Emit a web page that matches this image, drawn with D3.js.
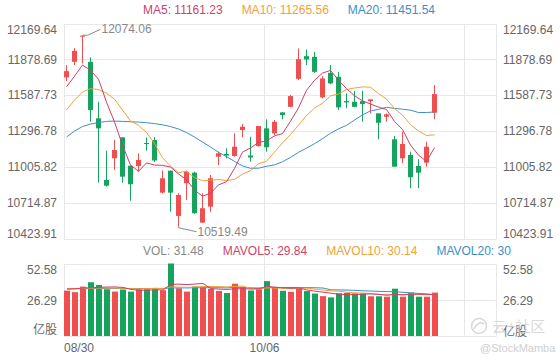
<!DOCTYPE html>
<html>
<head>
<meta charset="utf-8">
<script src="https://cdn.jsdelivr.net/npm/d3@7"></script>
<style>
  body { margin: 0; background: #fff; }
  svg { display: block; font-family: "Liberation Sans", Arial, sans-serif; }
</style>
</head>
<body>
<div id="chart"></div>
<script>
// Chart data
const openP  = [11731.8, 11858.3, 12062.6, 11858.3, 11399.4, 10899.2, 11075.1, 11245.4, 11015.1, 11012.7, 11199.2, 11223.5, 10796.2, 10974.6, 10607.3, 10872.4, 10958.3, 10552.9, 10682.7, 11088.1, 11110.0, 11093.8, 11304.5, 11097.8, 11174.8, 11318.3, 11277.8, 11448.1, 11493.4, 11720.5, 11904.5, 11898.8, 11569.7, 11769.1, 11736.7, 11539.7, 11534.0, 11539.7, 11539.7, 11439.9, 11412.4, 11229.2, 11075.1, 11101.9, 11012.7, 11039.4, 11444.8];
const closeP = [11782.9, 11947.5, 12070.7, 11466.7, 11318.3, 10853.0, 11142.4, 10925.9, 10864.3, 11061.3, 11194.3, 11057.3, 10912.9, 10796.2, 10777.5, 10966.5, 10629.2, 10669.7, 10912.9, 11115.7, 11097.8, 11169.2, 11331.3, 11081.6, 11337.0, 11164.3, 11371.8, 11426.2, 11580.2, 11880.2, 11877.8, 11777.2, 11723.7, 11683.2, 11488.6, 11529.1, 11493.4, 11515.4, 11553.4, 11363.7, 11431.8, 11007.0, 11191.0, 10921.1, 10958.3, 11169.2, 11596.4];
const highP  = [11831.5, 11969.4, 12074.06, 11894.0, 11534.0, 11136.7, 11223.5, 11245.4, 11015.1, 11115.7, 11245.4, 11247.8, 10976.2, 10974.6, 10791.3, 10974.6, 10966.5, 10791.3, 10939.7, 11128.6, 11156.2, 11277.8, 11353.2, 11250.2, 11337.0, 11391.3, 11385.6, 11448.1, 11588.3, 11967.0, 11958.9, 11939.4, 11742.4, 11831.5, 11777.2, 11602.1, 11623.2, 11623.2, 11553.4, 11439.9, 11439.9, 11255.9, 11290.8, 11128.6, 11067.0, 11209.7, 11669.4];
const lowP   = [11701.8, 11831.5, 11845.3, 11371.8, 10877.3, 10844.8, 10980.2, 10877.3, 10731.3, 10966.5, 11136.7, 11045.1, 10789.7, 10642.1, 10519.49, 10737.0, 10623.5, 10550.5, 10642.1, 11020.8, 11075.1, 11088.1, 11245.4, 11047.5, 11169.2, 11128.6, 11264.0, 11391.3, 11488.6, 11710.0, 11831.5, 11769.1, 11561.6, 11677.5, 11466.7, 11480.5, 11488.6, 11371.8, 11439.9, 11229.2, 11371.8, 11007.0, 11034.6, 10831.9, 10831.9, 11007.0, 11391.3];

const ma5  = [11655, 11742, 11832, 11790, 11717.2, 11531.2, 11370.2, 11180, 11020.8, 10969.4, 11037.6, 11020.6, 11018.0, 11004.4, 10947.6, 10902.1, 10816.5, 10767.8, 10791.2, 10858.8, 10885.1, 10993.1, 11125.4, 11159.1, 11203.4, 11216.7, 11257.2, 11276.2, 11375.9, 11484.5, 11627.2, 11708.3, 11767.8, 11788.4, 11710.1, 11640.4, 11583.6, 11541.9, 11516.0, 11491.0, 11471.5, 11374.3, 11309.4, 11182.9, 11101.8, 11049.3, 11161.23];
const ma10 = [11467, 11548, 11613, 11641, 11633, 11604, 11556, 11467, 11378, 11343.3, 11284.4, 11195.4, 11079.6, 11012.6, 10958.5, 10969.9, 10918.5, 10892.9, 10897.8, 10903.2, 10893.6, 10904.8, 10946.6, 10975.1, 11031.1, 11050.9, 11125.1, 11200.8, 11267.5, 11344.0, 11422.0, 11482.8, 11522.0, 11582.2, 11597.3, 11633.8, 11646.0, 11654.9, 11652.2, 11600.6, 11556.0, 11478.9, 11425.7, 11349.5, 11296.4, 11260.4, 11265.56];
const ma20 = [11248, 11296, 11333, 11353, 11365, 11375, 11377, 11375, 11372, 11369, 11364, 11357, 11347, 11333, 11313, 11284, 11248, 11207, 11167, 11123.3, 11089.0, 11050.1, 11013.1, 10993.9, 10994.8, 11010.4, 11021.8, 11046.9, 11082.6, 11123.6, 11157.8, 11193.8, 11234.3, 11278.7, 11314.2, 11342.3, 11385.5, 11427.8, 11459.9, 11472.3, 11489.0, 11480.8, 11473.8, 11465.8, 11446.9, 11447.1, 11451.54];

const vol = [32.9, 31.8, 35.8, 39.0, 37.0, 33.9, 32.2, 33.7, 32.2, 33.9, 33.9, 33.9, 33.2, 52.58, 34.6, 32.2, 35.8, 35.3, 34.1, 32.7, 31.2, 37.9, 35.5, 33.0, 33.9, 39.8, 35.0, 32.8, 32.0, 34.5, 32.6, 30.8, 28.9, 28.0, 31.0, 31.2, 30.9, 30.8, 28.8, 28.8, 28.5, 34.3, 28.5, 31.5, 28.5, 28.5, 31.48];
const mavol5  = [34.0, 34.2, 34.8, 35.0, 35.3, 35.5, 35.6, 35.2, 33.8, 33.2, 33.2, 33.5, 33.4, 37.5, 37.6, 37.3, 37.7, 38.1, 34.4, 34.0, 33.8, 34.2, 34.3, 34.1, 34.3, 36.0, 35.4, 34.9, 34.7, 34.8, 33.4, 32.5, 31.8, 31.0, 30.3, 30.0, 30.0, 30.4, 30.5, 30.1, 29.6, 30.2, 29.8, 30.3, 30.3, 30.3, 29.84];
const mavol10 = [34.5, 34.5, 34.6, 34.7, 34.8, 34.8, 34.7, 34.6, 34.4, 34.2, 34.3, 34.6, 34.3, 35.6, 35.4, 35.2, 35.6, 35.8, 35.9, 35.8, 35.6, 36.0, 36.2, 34.2, 34.2, 34.9, 34.8, 34.6, 34.4, 34.6, 34.7, 34.0, 33.3, 32.8, 32.5, 31.7, 31.3, 31.1, 30.8, 30.2, 29.8, 30.1, 30.1, 30.4, 30.2, 29.9, 30.14];
const mavol20 = [34.3, 34.3, 34.4, 34.4, 34.5, 34.5, 34.5, 34.5, 34.4, 34.4, 34.4, 34.5, 34.5, 34.8, 34.9, 34.9, 35.0, 35.0, 35.0, 35.0, 34.9, 35.3, 35.2, 34.9, 34.8, 35.1, 35.2, 35.2, 35.2, 35.2, 35.1, 35.0, 34.8, 33.5, 33.4, 33.3, 33.1, 32.8, 32.6, 32.4, 32.2, 32.1, 31.7, 31.2, 30.9, 30.4, 30.0];

const priceTicks = [12169.64, 11878.69, 11587.73, 11296.78, 11005.82, 10714.87, 10423.91];
const volTicks = [52.58, 26.29];
const xTickIdx = [0, 25];
const xTickLabels = ["08/30", "10/06"];
const slots = 54; // visible slots on the x axis

// Colors
const upColor = "#ef4f4f";
const downColor = "#15a35e";
const ma5Color = "#cf3f6a";
const ma10Color = "#f0a23a";
const ma20Color = "#3d8ec6";
const gridColor = "#e8e8e8";
const labelColor = "#666";

const width = 560, height = 360;
const left = 64, right = 496;

const svg = d3.select("#chart").append("svg")
    .attr("width", width)
    .attr("height", height);

const x = d3.scaleBand()
    .domain(d3.range(slots))
    .range([left, right])
    .paddingInner(0.25)
    .paddingOuter(0.125)
    .align(0);

const boundary = i => left + x.step() * i;

const yP = d3.scaleLinear().domain([10423.91, 12169.64]).range([238.5, 23.5]);
const yV = d3.scaleLinear().domain([0, 52.58]).range([336, 263.5]);

const idx = d3.range(closeP.length);

// Grid lines
const grid = svg.append("g").attr("stroke", gridColor).attr("stroke-width", 1);
priceTicks.forEach(t => {
    const yy = Math.round(yP(t)) + 0.5;
    grid.append("line").attr("x1", left).attr("x2", right + 0.5).attr("y1", yy).attr("y2", yy);
});
[0, 52.58, 26.29].forEach(t => {
    const yy = Math.round(yV(t)) + 0.5;
    grid.append("line").attr("x1", left).attr("x2", right + 0.5).attr("y1", yy).attr("y2", yy);
});
// vertical lines: borders and date lines
[0, 25, 50, slots].forEach(i => {
    const xx = Math.round(boundary(i)) + 0.5;
    grid.append("line").attr("x1", xx).attr("x2", xx)
        .attr("y1", Math.round(yP(12169.64)) + 0.5).attr("y2", Math.round(yP(10423.91)) + 0.5);
    grid.append("line").attr("x1", xx).attr("x2", xx)
        .attr("y1", Math.round(yV(52.58)) + 0.5).attr("y2", Math.round(yV(0)) + 0.5);
});
// the 10/06 line runs across the gap too
grid.append("line")
    .attr("x1", Math.round(boundary(25)) + 0.5).attr("x2", Math.round(boundary(25)) + 0.5)
    .attr("y1", Math.round(yP(10423.91)) + 0.5).attr("y2", Math.round(yV(52.58)) + 0.5);

// Price axis labels (both sides)
const lastTick = priceTicks.length - 1;
const priceLabels = svg.append("g")
    .attr("font-size", 12)
    .attr("fill", labelColor);
priceTicks.forEach((t, k) => {
    const dy = k === 0 ? 6 : (k === lastTick ? -5 : 0);
    priceLabels.append("text")
        .attr("x", 57).attr("y", yP(t) + dy)
        .attr("dy", "0.35em").attr("text-anchor", "end").text(t.toFixed(2));
    priceLabels.append("text")
        .attr("x", 503).attr("y", yP(t) + dy)
        .attr("dy", "0.35em").attr("text-anchor", "start").text(t.toFixed(2));
});

// Volume axis labels
const volLabels = svg.append("g").attr("font-size", 12).attr("fill", labelColor);
volTicks.forEach((t, k) => {
    const dy = k === 0 ? 6 : 1;
    volLabels.append("text").attr("x", 57).attr("y", yV(t) + dy)
        .attr("dy", "0.35em").attr("text-anchor", "end").text(t.toFixed(2));
    volLabels.append("text").attr("x", 503).attr("y", yV(t) + dy)
        .attr("dy", "0.35em").attr("text-anchor", "start").text(t.toFixed(2));
});
volLabels.append("text").attr("x", 57).attr("y", yV(0) - 6)
    .attr("dy", "0.35em").attr("text-anchor", "end")
    .attr("font-family", "'Noto Sans CJK SC', sans-serif").text("亿股");
volLabels.append("text").attr("x", 503).attr("y", yV(0) - 4)
    .attr("dy", "0.35em").attr("text-anchor", "start")
    .attr("font-family", "'Noto Sans CJK SC', sans-serif").text("亿股");

// Date labels
xTickIdx.forEach((i, k) => {
    svg.append("text")
        .attr("x", k === 0 ? boundary(i) : boundary(i) + 0.5)
        .attr("y", 352)
        .attr("font-size", 12)
        .attr("fill", labelColor)
        .attr("text-anchor", k === 0 ? "start" : "middle")
        .text(xTickLabels[k]);
});

// Candles
const isUp = i => closeP[i] >= openP[i];
const candles = svg.append("g").selectAll("g").data(idx).enter().append("g");
candles.append("line")
    .attr("x1", i => x(i) + 2.5).attr("x2", i => x(i) + 2.5)
    .attr("y1", i => yP(highP[i])).attr("y2", i => yP(lowP[i]))
    .attr("stroke", i => isUp(i) ? upColor : downColor)
    .attr("stroke-width", 1);
candles.append("rect")
    .attr("x", i => x(i))
    .attr("width", x.bandwidth() - 1)
    .attr("y", i => yP(Math.max(openP[i], closeP[i])))
    .attr("height", i => Math.max(1, Math.abs(yP(openP[i]) - yP(closeP[i]))))
    .attr("fill", i => isUp(i) ? upColor : downColor);

// MA lines
const lineP = series => d3.line().x(i => x(i) + 2.5).y(i => yP(series[i]))(idx);
[[ma20, ma20Color], [ma10, ma10Color], [ma5, ma5Color]].forEach(([s, c]) => {
    svg.append("path").attr("d", lineP(s)).attr("fill", "none")
        .attr("stroke", c).attr("stroke-width", 1);
});

// Max / min markers
const iMax = d3.maxIndex(highP), iMin = d3.minIndex(lowP);
const mark = svg.append("g").attr("stroke", "#8a8a8a").attr("fill", "none").attr("stroke-width", 1);
const hx = x(iMax) + 2.5, hy = yP(highP[iMax]);
mark.append("polyline").attr("points", `${hx},${hy} ${hx + 5},${hy} ${hx + 18},${hy - 6}`);
svg.append("text").attr("x", hx + 19).attr("y", hy - 6).attr("dy", "0.35em")
    .attr("font-size", 12).attr("fill", "#888").text(highP[iMax].toFixed(2));
const lx = x(iMin) + 2.5, ly = yP(lowP[iMin]);
mark.append("polyline").attr("points", `${lx},${ly} ${lx},${ly + 1} ${lx + 18},${ly + 5}`);
svg.append("text").attr("x", lx + 19).attr("y", ly + 5).attr("dy", "0.35em")
    .attr("font-size", 12).attr("fill", "#888").text(lowP[iMin].toFixed(2));

// Volume bars
svg.append("g").selectAll("rect").data(idx).enter().append("rect")
    .attr("x", i => x(i))
    .attr("width", x.bandwidth())
    .attr("y", i => yV(vol[i]))
    .attr("height", i => yV(0) - yV(vol[i]))
    .attr("fill", i => isUp(i) ? upColor : downColor);

const lineV = series => d3.line().x(i => x(i) + 3).y(i => yV(series[i]))(idx);
[[mavol20, ma20Color], [mavol10, ma10Color], [mavol5, ma5Color]].forEach(([s, c]) => {
    svg.append("path").attr("d", lineV(s)).attr("fill", "none")
        .attr("stroke", c).attr("stroke-width", 1);
});

// Legend rows
function legendRow(items, y) {
    let cx = 143;
    items.forEach(([txt, color]) => {
        const t = svg.append("text").attr("x", cx).attr("y", y)
            .attr("font-size", 12).attr("fill", color).text(txt);
        cx += t.node().getComputedTextLength() + 19;
    });
}
const last = closeP.length - 1;
legendRow([
    ["MA5: " + ma5[last].toFixed(2), ma5Color],
    ["MA10: " + ma10[last].toFixed(2), ma10Color],
    ["MA20: " + ma20[last].toFixed(2), ma20Color]
], 14);
legendRow([
    ["VOL: " + vol[last], "#888"],
    ["MAVOL5: " + mavol5[last], ma5Color],
    ["MAVOL10: " + mavol10[last], ma10Color],
    ["MAVOL20: " + mavol20[last], ma20Color]
], 255);

// Watermark
const wm = svg.append("g").attr("opacity", 0.85);
wm.append("circle").attr("cx", 479).attr("cy", 326).attr("r", 7.5)
    .attr("fill", "none").attr("stroke", "#d2d2d2").attr("stroke-width", 1.5);
wm.append("path").attr("d", "M474,329 Q479,320 484,324")
    .attr("fill", "none").attr("stroke", "#d2d2d2").attr("stroke-width", 1.5);
wm.append("text").attr("x", 492).attr("y", 332)
    .attr("font-size", 15).attr("fill", "#d4d4d4")
    .attr("font-family", "'Noto Sans CJK SC', sans-serif").text("云+社区");
wm.append("text").attr("x", 480).attr("y", 352)
    .attr("font-size", 11).attr("fill", "#c8c8c8").text("@StockMamba");
</script>
</body>
</html>
